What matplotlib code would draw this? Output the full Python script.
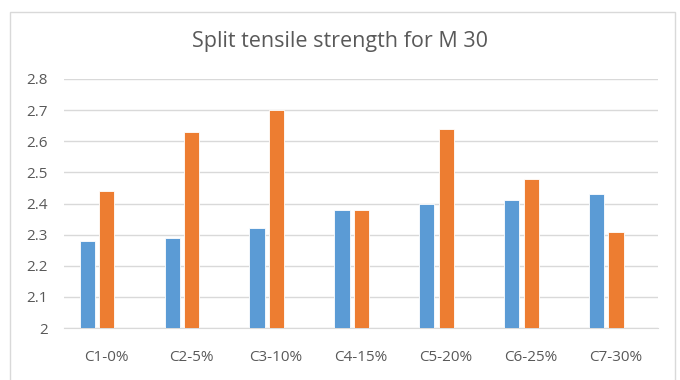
import matplotlib
matplotlib.use("Agg")
import matplotlib.pyplot as plt
from matplotlib.patches import Rectangle
from matplotlib import font_manager as fm
import numpy as np

categories = ["C1-0%", "C2-5%", "C3-10%", "C4-15%", "C5-20%", "C6-25%", "C7-30%"]
series_a = [2.28, 2.29, 2.32, 2.38, 2.40, 2.41, 2.43]
series_b = [2.44, 2.63, 2.70, 2.38, 2.64, 2.48, 2.31]
y_ticks = [2, 2.1, 2.2, 2.3, 2.4, 2.5, 2.6, 2.7, 2.8]
y_labels = ["2", "2.1", "2.2", "2.3", "2.4", "2.5", "2.6", "2.7", "2.8"]
title = "Split tensile strength for M 30"

installed = {f.name for f in fm.fontManager.ttflist}
narrow = "Liberation Sans Narrow" if "Liberation Sans Narrow" in installed else "Open Sans"
plt.rcParams["font.family"] = [narrow, "DejaVu Sans"]

W, H = 680, 380
fig = plt.figure(figsize=(W / 100, H / 100), dpi=100)
fig.patch.set_facecolor("white")

# chart frame
fig.patches.append(Rectangle((10 / W, -0.05), (675 - 10) / W, (H - 12) / H + 0.05,
                             transform=fig.transFigure, fill=False,
                             edgecolor="#D9D9D9", linewidth=1.0))

left, right = 64 / W, 658 / W
bottom, top = 1 - 328 / H, 1 - 79 / H
ax = fig.add_axes([left, bottom, right - left, top - bottom])

x = np.arange(len(categories))
bw = 0.18
ax.bar(x - 0.225, np.array(series_a) - 2, bottom=2, width=bw, color="#5B9BD5",
       edgecolor="#FFFFFF", linewidth=0.6, zorder=3)
ax.bar(x + 0.005, np.array(series_b) - 2, bottom=2, width=bw, color="#ED7D31",
       edgecolor="#FFFFFF", linewidth=0.6, zorder=3)

ax.set_xlim(-0.5, len(categories) - 0.5)
ax.set_ylim(2, 2.8)
ax.set_yticks(y_ticks)
ax.set_yticklabels(y_labels)
ax.set_xticks(x)
ax.set_xticklabels(categories)
ax.grid(axis="y", color="#D9D9D9", linewidth=1.0, zorder=0)
for s in ["top", "right", "left"]:
    ax.spines[s].set_visible(False)
ax.spines["bottom"].set_color("#D9D9D9")
ax.tick_params(axis="both", length=0, colors="#595959", labelsize=11)
ax.tick_params(axis="y", pad=11.5)
ax.tick_params(axis="x", pad=16)

fig.text(0.5, 1 - 42 / H, title, ha="center", va="center", fontsize=15.5, color="#595959")

fig.savefig("out.png", dpi=100)
